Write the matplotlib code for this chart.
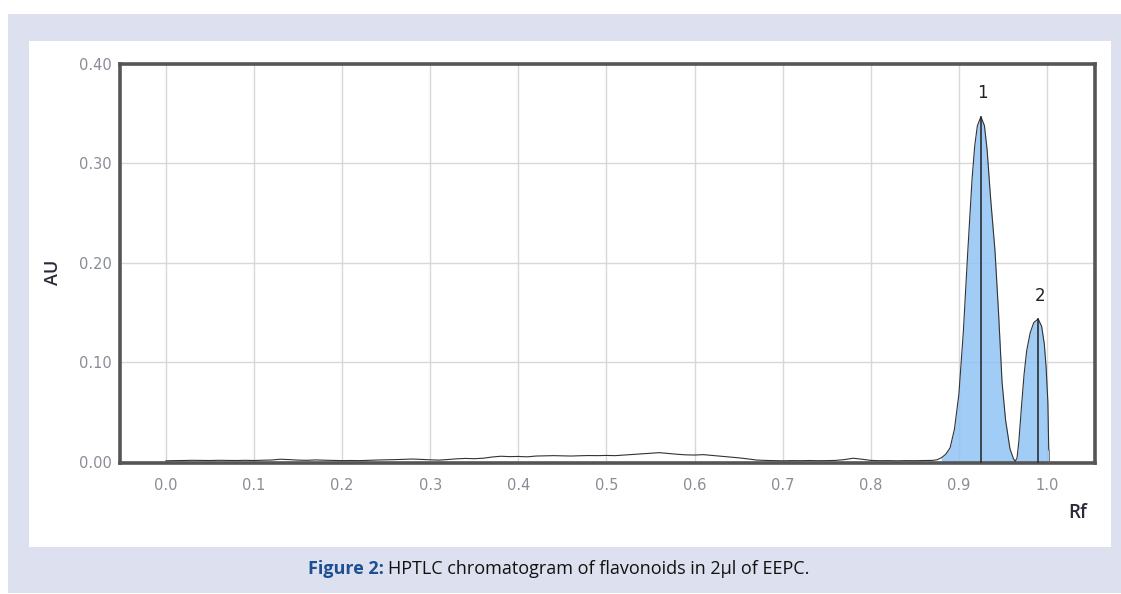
import matplotlib
matplotlib.use("Agg")
import matplotlib.pyplot as plt
from matplotlib.patches import Rectangle
import numpy as np

# ---- data ----
rf_base = [0.00, 0.01, 0.02, 0.03, 0.04, 0.05, 0.06, 0.07, 0.08, 0.09,
           0.10, 0.11, 0.12, 0.13, 0.14, 0.15, 0.16, 0.17, 0.18, 0.19,
           0.20, 0.21, 0.22, 0.23, 0.24, 0.25, 0.26, 0.27, 0.28, 0.29,
           0.30, 0.31, 0.32, 0.33, 0.34, 0.35, 0.36, 0.37, 0.38, 0.39,
           0.40, 0.41, 0.42, 0.43, 0.44, 0.45, 0.46, 0.47, 0.48, 0.49,
           0.50, 0.51, 0.52, 0.53, 0.54, 0.55, 0.56, 0.57, 0.58, 0.59,
           0.60, 0.61, 0.62, 0.63, 0.64, 0.65, 0.66, 0.67, 0.68, 0.69,
           0.70, 0.71, 0.72, 0.73, 0.74, 0.75, 0.76, 0.77, 0.78, 0.79,
           0.80, 0.81, 0.82, 0.83, 0.84, 0.85, 0.86, 0.87, 0.875]
au_base = [0.0010, 0.0012, 0.0013, 0.0015, 0.0014, 0.0013, 0.0015, 0.0014, 0.0013, 0.0015,
           0.0013, 0.0016, 0.0018, 0.0026, 0.0022, 0.0017, 0.0015, 0.0019, 0.0016, 0.0014,
           0.0012, 0.0013, 0.0012, 0.0015, 0.0018, 0.0020, 0.0022, 0.0025, 0.0028, 0.0024,
           0.0020, 0.0017, 0.0023, 0.0030, 0.0034, 0.0031, 0.0036, 0.0048, 0.0056, 0.0052,
           0.0054, 0.0050, 0.0058, 0.0060, 0.0062, 0.0060, 0.0058, 0.0061, 0.0063, 0.0062,
           0.0064, 0.0062, 0.0068, 0.0074, 0.0080, 0.0086, 0.0092, 0.0084, 0.0076, 0.0070,
           0.0068, 0.0072, 0.0064, 0.0056, 0.0048, 0.0040, 0.0030, 0.0018, 0.0014, 0.0012,
           0.0010, 0.0012, 0.0011, 0.0013, 0.0011, 0.0012, 0.0014, 0.0022, 0.0036, 0.0026,
           0.0014, 0.0011, 0.0012, 0.0010, 0.0012, 0.0011, 0.0013, 0.0014, 0.0020]

rf_peaks = [0.880, 0.885, 0.890, 0.895, 0.900, 0.905, 0.910, 0.915, 0.918, 0.921,
            0.925, 0.929, 0.932, 0.936, 0.941, 0.945, 0.949, 0.953, 0.958, 0.962,
            0.964, 0.966, 0.968, 0.971, 0.974, 0.977, 0.981, 0.985, 0.990, 0.994,
            0.997, 0.999, 1.001, 1.002]
au_peaks = [0.0040, 0.0075, 0.0140, 0.0330, 0.0680, 0.1300, 0.2100, 0.2850, 0.3180, 0.3380,
            0.3470, 0.3380, 0.3140, 0.2650, 0.2120, 0.1500, 0.0800, 0.0420, 0.0130, 0.0030,
            0.0005, 0.0040, 0.0200, 0.0550, 0.0880, 0.1120, 0.1300, 0.1400, 0.1437, 0.1360,
            0.1180, 0.0950, 0.0600, 0.0120]

peak_labels = ["1", "2"]
peak_rf = [0.925, 0.990]
peak_au = [0.347, 0.1437]

x_ticks = [0.0, 0.1, 0.2, 0.3, 0.4, 0.5, 0.6, 0.7, 0.8, 0.9, 1.0]
y_ticks = [0.00, 0.10, 0.20, 0.30, 0.40]

# ---- figure ----
W, H = 1121, 594
fig = plt.figure(figsize=(W / 100, H / 100), dpi=100)
fig.patch.set_facecolor("white")

def px_rect(x0, y0, x1, y1, color):
    fig.patches.append(Rectangle((x0 / W, 1 - y1 / H), (x1 - x0) / W, (y1 - y0) / H,
                                 transform=fig.transFigure, facecolor=color,
                                 edgecolor="none", zorder=-10))

px_rect(8, 14, 1121, 593, "#dde1ef")
px_rect(29, 41, 1111, 547, "white")

ax = fig.add_axes([120 / W, 1 - 463 / H, (1095 - 120) / W, (463 - 64) / H])
ax.set_facecolor("white")

x = np.array(rf_base + rf_peaks)
y = np.array(au_base + au_peaks)

# filled peaks
px_arr = np.array(rf_peaks)
py_arr = np.array(au_peaks)
ax.fill_between(px_arr, 0, py_arr, color="#8fc3f5", alpha=0.85, lw=0, zorder=2)
ax.plot(x, y, color="#333333", lw=0.8, zorder=3)
ax.plot([rf_peaks[-1], rf_peaks[-1]], [0, au_peaks[-1]], color="#666666", lw=0.6, zorder=3)

for lab, r, a in zip(peak_labels, peak_rf, peak_au):
    ax.plot([r, r], [0, a], color="#222222", lw=1.1, zorder=4)
    ax.text(r + 0.002, a + 0.0235, lab, ha="center", va="center", fontsize=12,
            color="#222222", family="DejaVu Sans")

ax.set_xlim(-0.0522, 1.0545)
ax.set_ylim(-0.0012, 0.40)
ax.set_xticks(x_ticks)
ax.set_xticklabels([f"{t:.1f}" for t in x_ticks])
ax.set_yticks(y_ticks)
ax.set_yticklabels([f"{t:.2f}" for t in y_ticks])
ax.tick_params(axis="both", length=0, labelsize=10.5, labelcolor="#8a8d96")
ax.tick_params(axis="x", pad=11)
ax.tick_params(axis="y", pad=6)
ax.grid(True, color="#d8d8d8", lw=1.0, zorder=0)
ax.set_axisbelow(True)
for s in ax.spines.values():
    s.set_color("#555555")
    s.set_linewidth(2.6)

fig.text(53 / W, 1 - 272 / H, "AU", rotation=90, ha="center", va="center",
         fontsize=13, color="#2a2a3a", family="Open Sans", fontweight="semibold")
fig.text(1078 / W, 1 - 513 / H, "Rf", ha="center", va="center",
         fontsize=13.5, color="#2a2a3a", family="Open Sans", fontweight="semibold")

# caption
cap_y = 1 - 569 / H
t1 = fig.text(0, cap_y, "Figure 2:", ha="left", va="center",
              fontsize=13, color="#1d4f91", family="Open Sans", fontweight="bold")
t2 = fig.text(0, cap_y, "HPTLC chromatogram of flavonoids in 2µl of EEPC.",
              ha="left", va="center", fontsize=13, color="#111111", family="Open Sans")
fig.canvas.draw()
b1 = t1.get_window_extent()
b2 = t2.get_window_extent()
gap = 4
total = b1.width + gap + b2.width
x0 = 559 - total / 2
t1.set_x(x0 / W)
t2.set_x((x0 + b1.width + gap) / W)

fig.savefig("out.png", dpi=100)
